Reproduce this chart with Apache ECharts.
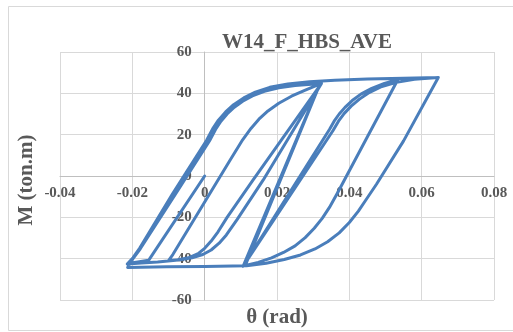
<!DOCTYPE html>
<html>
<head>
<meta charset="utf-8">
<script src="https://cdn.jsdelivr.net/npm/echarts@6/dist/echarts.min.js"></script>
<style>html,body{margin:0;padding:0;background:#fff}#c{width:513px;height:332px}</style>
</head>
<body>
<div id="c"></div>
<script>
// Chart text
const chartTitle = 'W14_F_HBS_AVE';
const xAxisTitle = 'θ (rad)';
const yAxisTitle = 'M (ton.m)';

// Tick labels
const xTickLabels = ['-0.04', '-0.02', '0', '0.02', '0.04', '0.06', '0.08'];
const yTickLabels = ['-60', '-40', '-20', '0', '20', '40', '60'];

// Hysteresis path (rotation θ, moment M), in recorded order
const theta = [
  0, -0.0155,
  -0.0185, -0.0212,
  -0.0195, -0.0178, -0.008, 0.0015, 0.0030, 0.0045, 0.0062, 0.0082, 0.0105, 0.0132, 0.0165, 0.0205, 0.025, 0.0323,
  0.0162, 0.0090, 0.0060, 0.0040, 0.0018, -0.0005, -0.0035, -0.0068, -0.0100,
  -0.0088, 0.0068, 0.0105, 0.0128, 0.0150, 0.0175, 0.0205, 0.0240, 0.0275, 0.0323,
  0.0134, 0.0062, 0.0037, 0.0018, 0.0000, -0.0018, -0.0045, -0.008, -0.013, -0.0175, -0.0214,
  -0.0198, -0.0180, -0.0083, 0.0012, 0.0027, 0.0042, 0.0059, 0.0079, 0.0102, 0.0130, 0.0163, 0.0203, 0.0250, 0.0320,
  0.0112,
  0.0318,
  0.0106,
  0.0345, 0.0358, 0.0372, 0.0388, 0.0408, 0.0432, 0.0462, 0.0497, 0.0534,
  0.0450, 0.0368, 0.0345, 0.0325, 0.0303, 0.0278, 0.0250, 0.0218, 0.0185, 0.0148, 0.0107,
  0.0355, 0.0370, 0.0386, 0.0405, 0.0428, 0.0456, 0.0490, 0.0530, 0.0580, 0.0646,
  0.0550, 0.0475, 0.0448, 0.0425, 0.0400, 0.0372, 0.0340, 0.0305, 0.0265, 0.0220, 0.0170, 0.0116, 0.0, -0.0105, -0.0213,
  -0.0200, -0.0182, -0.009, 0.0005, 0.0022, 0.0038, 0.0058, 0.0080, 0.0108, 0.0140, 0.018, 0.023, 0.029, 0.036, 0.045, 0.055, 0.0646
];
const moment = [
  0, -40.8,
  -41.6, -42.3,
  -39.3, -35.2, -8.5, 17.5, 22.5, 26.5, 30, 33.3, 36.2, 38.8, 41, 42.7, 43.8, 44.8,
  -1.9, -21, -28.5, -32.5, -35.8, -38, -39.6, -40.5, -40.9,
  -38, 7, 17.5, 23, 27.5, 31.5, 35.2, 38.6, 41.3, 44.8,
  -1.9, -20, -27, -31.5, -35, -37.6, -39.6, -40.8, -41.6, -42.1, -42.6,
  -39.5, -35, -8.5, 17.6, 22.7, 26.8, 30.4, 33.7, 36.6, 39.2, 41.3, 43, 44.1, 45.0,
  -43.4,
  44.4,
  -43.8,
  22.5, 26.5, 30, 33.2, 36.5, 39.6, 42.4, 44.8, 46.6,
  19, -8, -15.2, -20.5, -25.3, -29.8, -33.8, -37, -39.6, -41.8, -43.5,
  22, 26.5, 30.3, 33.8, 37.2, 40.5, 43.3, 45.3, 46.8, 47.7,
  17, -4, -11, -17, -22.5, -27.5, -31.8, -35.3, -38.2, -40.4, -42.2, -43.4, -43.8, -43.9, -44.3,
  -40.5, -35.6, -9, 17.2, 22.8, 27, 31, 34.5, 37.8, 40.6, 42.9, 44.5, 45.6, 46.3, 46.9, 47.3, 47.7
];

const seriesData = theta.map((t, i) => [t, moment[i]]);

const fontFamily = '"Liberation Serif", "Times New Roman", serif';
const labelFont = { color: '#595959', fontSize: 15, fontWeight: 'bold', fontFamily: fontFamily };
const chart = echarts.init(document.getElementById('c'), null, { renderer: 'canvas' });
chart.setOption({
  animation: false,
  backgroundColor: '#ffffff',
  title: {
    text: chartTitle,
    left: 217, top: 27,
    textStyle: { color: '#595959', fontSize: 21, fontWeight: 'bold', fontFamily: fontFamily }
  },
  grid: { left: 60, right: 19, top: 52, bottom: 32, containLabel: false },
  xAxis: {
    type: 'value', min: -0.04, max: 0.08, interval: 0.02,
    position: 'bottom', offset: -124,
    axisLine: { show: true, onZero: false, lineStyle: { color: '#bfbfbf', width: 1 } },
    axisTick: { show: false },
    splitLine: { show: true, lineStyle: { color: '#d9d9d9', width: 1 } },
    axisLabel: Object.assign({ margin: 10, formatter: (v) => xTickLabels[Math.round((v + 0.04) / 0.02)] }, labelFont)
  },
  yAxis: {
    type: 'value', min: -60, max: 60, interval: 20,
    position: 'left', offset: -144.67,
    axisLine: { show: true, onZero: false, lineStyle: { color: '#bfbfbf', width: 1 } },
    axisTick: { show: false },
    splitLine: { show: true, lineStyle: { color: '#d9d9d9', width: 1 } },
    axisLabel: Object.assign({ margin: 13, formatter: (v) => yTickLabels[Math.round((v + 60) / 20)] }, labelFont)
  },
  graphic: [
    { type: 'rect', z: -1, shape: { x: 8.5, y: 6.5, width: 510, height: 324 }, style: { fill: 'none', stroke: '#d9d9d9', lineWidth: 1 } },
    { type: 'text', x: 27, y: 180, rotation: Math.PI / 2,
      style: { text: yAxisTitle, fill: '#595959', font: 'bold 21px ' + fontFamily, textAlign: 'center', textVerticalAlign: 'middle' } },
    { type: 'text', x: 277, y: 318,
      style: { text: xAxisTitle, fill: '#595959', font: 'bold 21px ' + fontFamily, textAlign: 'center', textVerticalAlign: 'middle' } }
  ],
  series: [{
    type: 'line',
    data: seriesData,
    showSymbol: false,
    symbol: 'none',
    smooth: false,
    lineStyle: { color: '#4A7EBB', width: 3, join: 'round', cap: 'round' },
    itemStyle: { color: '#4A7EBB' }
  }]
});
</script>
</body>
</html>
